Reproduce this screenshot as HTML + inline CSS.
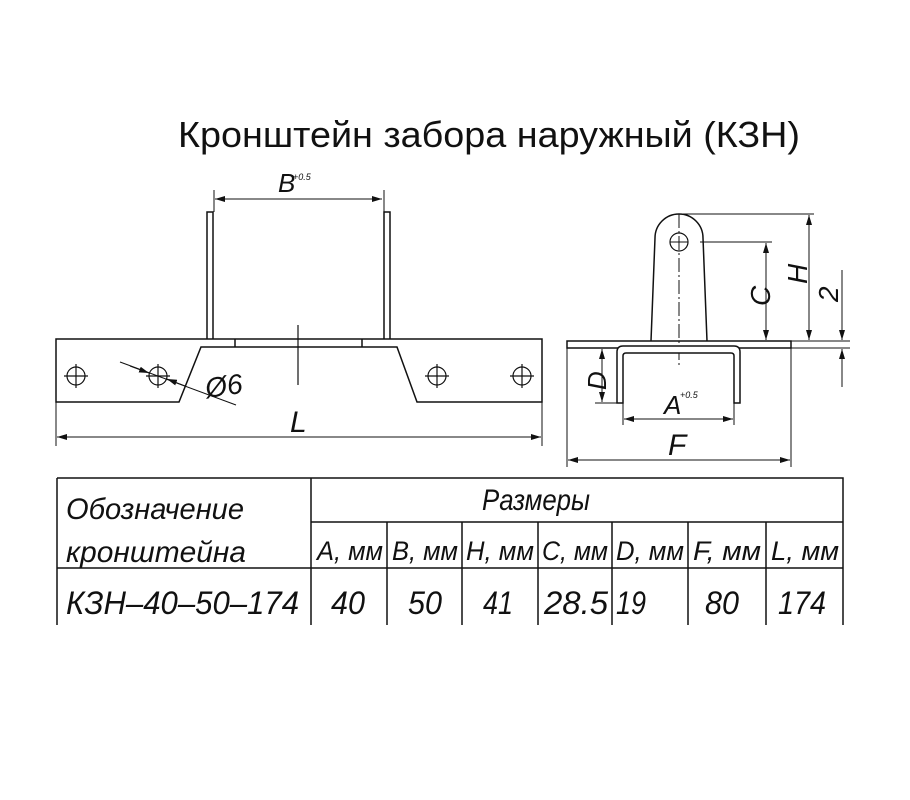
<!DOCTYPE html>
<html><head><meta charset="utf-8"><style>
body{margin:0;background:#fff}
svg{display:block}
text{font-family:"Liberation Sans Narrow","Liberation Sans",sans-serif;fill:#111}
.i{font-style:italic;font-weight:normal}
</style></head><body>
<svg width="910" height="800" viewBox="0 0 910 800" xmlns="http://www.w3.org/2000/svg">
<defs>
<marker id="a" viewBox="0 0 10 6" refX="10" refY="3" markerWidth="10" markerHeight="6" orient="auto-start-reverse" markerUnits="userSpaceOnUse"><path d="M0,0L10,3L0,6z" fill="#111"/></marker>
</defs>
<text x="178" y="147" font-size="36" textLength="622" lengthAdjust="spacingAndGlyphs" style="font-weight:300">Кронштейн забора наружный (КЗН)</text>
<g stroke="#111" stroke-width="1.5" fill="none">
<path d="M56,339H542V402H417L397,347H201L179,402H56Z"/>
<path d="M235,339V347M362,339V347"/>
<path d="M207,339V212H213V339M384,339V212H390V339"/>
<path d="M298,325V385" stroke-width="1.2"/>
<g stroke-width="1.2">
<circle cx="76" cy="376" r="9"/><path d="M64,376H88M76,364V388"/>
<circle cx="158" cy="376" r="9"/><path d="M146,376H170M158,364V388"/>
<circle cx="437" cy="376" r="9"/><path d="M425,376H449M437,364V388"/>
<circle cx="522" cy="376" r="9"/><path d="M510,376H534M522,364V388"/>
</g>
<path d="M120,362L236,405" stroke-width="1"/>
<path d="M130,366L149,373" marker-end="url(#a)" stroke-width="1"/>
<path d="M185,386L167,379" marker-end="url(#a)" stroke-width="1"/>
<path d="M214,212V190M384,212V190" stroke-width="1"/>
<path d="M215,199H382" marker-start="url(#a)" marker-end="url(#a)" stroke-width="1"/>
<path d="M56,402V446M542,402V446" stroke-width="1"/>
<path d="M57,437H541" marker-start="url(#a)" marker-end="url(#a)" stroke-width="1"/>
<path d="M567,341H791V348H567Z"/>
<path d="M651,341L655,238A24,24 0 0 1 703,238L707,341"/>
<circle cx="679" cy="242" r="9" stroke-width="1.2"/>
<path d="M670,242H688" stroke-width="1"/>
<path d="M679,214V367" stroke-dasharray="14,3,2,3" stroke-width="1"/>
<path d="M617,403V352Q617,346 623,346H734Q740,346 740,352V403H734V356Q734,353 731,353H626Q623,353 623,356V403Z" fill="#fff"/>
<path d="M679,214H814M700,242H772M791,341H850M791,348H850" stroke-width="1"/>
<path d="M809,215V340" marker-start="url(#a)" marker-end="url(#a)" stroke-width="1"/>
<path d="M766,243V340" marker-start="url(#a)" marker-end="url(#a)" stroke-width="1"/>
<path d="M842,270V340" marker-end="url(#a)" stroke-width="1"/>
<path d="M842,387V349" marker-end="url(#a)" stroke-width="1"/>
<path d="M595,403H617" stroke-width="1"/>
<path d="M602,349V402" marker-start="url(#a)" marker-end="url(#a)" stroke-width="1"/>
<path d="M623,403V425M734,403V425" stroke-width="1"/>
<path d="M624,419H733" marker-start="url(#a)" marker-end="url(#a)" stroke-width="1"/>
<path d="M567,348V467M791,348V467" stroke-width="1"/>
<path d="M568,460H790" marker-start="url(#a)" marker-end="url(#a)" stroke-width="1"/>
<path d="M57,478H843V625M57,478V625M311,478V625M311,522H843M57,568H843M387,522V625M462,522V625M538,522V625M612,522V625M688,522V625M766,522V625"/>
</g>
<g class="i">
<text x="278" y="192" font-size="26">B</text><text x="293" y="180" font-size="9">+0.5</text>
<text x="205" y="396" font-size="28" transform="rotate(-8 220 385)">Ø6</text>
<text x="290" y="432" font-size="30">L</text>
<text x="664" y="414" font-size="26">A</text><text x="680" y="398" font-size="9">+0.5</text>
<text x="668" y="455" font-size="30">F</text>
<text x="0" y="0" font-size="28" transform="translate(770,306) rotate(-90)">C</text>
<text x="0" y="0" font-size="28" transform="translate(807,284) rotate(-90)">H</text>
<text x="0" y="0" font-size="28" transform="translate(838,302) rotate(-90)">2</text>
<text x="0" y="0" font-size="26" transform="translate(606,390) rotate(-90)">D</text>
<text x="66" y="519" font-size="30" textLength="178" lengthAdjust="spacingAndGlyphs">Обозначение</text>
<text x="66" y="562" font-size="30" textLength="180" lengthAdjust="spacingAndGlyphs">кронштейна</text>
<text x="482" y="510" font-size="30" textLength="108" lengthAdjust="spacingAndGlyphs">Размеры</text>
<g font-size="27">
<text x="317" y="560" textLength="66" lengthAdjust="spacingAndGlyphs">A, мм</text>
<text x="392" y="560" textLength="66" lengthAdjust="spacingAndGlyphs">B, мм</text>
<text x="466" y="560" textLength="68" lengthAdjust="spacingAndGlyphs">H, мм</text>
<text x="542" y="560" textLength="66" lengthAdjust="spacingAndGlyphs">C, мм</text>
<text x="616" y="560" textLength="68" lengthAdjust="spacingAndGlyphs">D, мм</text>
<text x="693" y="560" textLength="68" lengthAdjust="spacingAndGlyphs">F, мм</text>
<text x="771" y="560" textLength="68" lengthAdjust="spacingAndGlyphs">L, мм</text>
</g>
<g font-size="32">
<text x="66" y="614" textLength="233" lengthAdjust="spacingAndGlyphs">КЗН–40–50–174</text>
<text x="331" y="614" textLength="34" lengthAdjust="spacingAndGlyphs">40</text>
<text x="408" y="614" textLength="34" lengthAdjust="spacingAndGlyphs">50</text>
<text x="483" y="614" textLength="30" lengthAdjust="spacingAndGlyphs">41</text>
<text x="544" y="614" textLength="64" lengthAdjust="spacingAndGlyphs">28.5</text>
<text x="616" y="614" textLength="30" lengthAdjust="spacingAndGlyphs">19</text>
<text x="705" y="614" textLength="34" lengthAdjust="spacingAndGlyphs">80</text>
<text x="778" y="614" textLength="48" lengthAdjust="spacingAndGlyphs">174</text>
</g>
</g>
</svg>
</body></html>
